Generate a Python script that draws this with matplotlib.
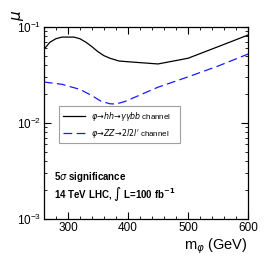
import matplotlib
matplotlib.use("Agg")
import matplotlib.pyplot as plt
from matplotlib.ticker import MultipleLocator, LogLocator

plt.rcParams["font.family"] = ["Liberation Sans", "DejaVu Sans"]

mass_hh = [260, 270, 280, 290, 300, 310, 320, 330, 340, 350, 360, 370, 385, 405, 450, 500, 550, 600]
mu_hh = [0.058, 0.069, 0.075, 0.078, 0.078, 0.078, 0.075, 0.069, 0.062, 0.055, 0.050, 0.047,
         0.044, 0.043, 0.041, 0.047, 0.062, 0.082]

mass_zz = [260, 290, 320, 340, 355, 370, 380, 395, 420, 450, 500, 550, 600]
mu_zz = [0.0266, 0.0252, 0.0223, 0.0192, 0.0168, 0.0158, 0.0157, 0.0167, 0.0195, 0.0235,
         0.0301, 0.039, 0.052]

label_hh = r"$\varphi\!\rightarrow\!hh\!\rightarrow\!\gamma\gamma bb$ channel"
label_zz = r"$\varphi\!\rightarrow\!ZZ\!\rightarrow\!2l2l'$ channel"

fig = plt.figure(figsize=(2.76, 2.62), dpi=100)
ax = fig.add_axes([0.159, 0.164, 0.740, 0.734])

ax.plot(mass_hh, mu_hh, c="black", lw=0.9, label=label_hh)
ax.plot(mass_zz, mu_zz, c="#1a1aff", lw=0.9, ls=(0, (7, 3.5)), label=label_zz)

ax.set_yscale("log")
ax.set_xlim(260, 600)
ax.set_ylim(1e-3, 1e-1)
ax.xaxis.set_major_locator(MultipleLocator(100))
ax.xaxis.set_minor_locator(MultipleLocator(20))
ax.yaxis.set_minor_locator(LogLocator(base=10, subs=range(2, 10)))
ax.tick_params(which="both", direction="in", top=True, right=True, labelsize=8.5, pad=2)
ax.tick_params(which="major", length=5)
ax.tick_params(which="minor", length=2.5)
for s in ax.spines.values():
    s.set_linewidth(0.9)

leg = ax.legend(loc="lower left", bbox_to_anchor=(0.074, 0.395, 0.593, 0.161), mode="expand",
                fontsize=5.7, frameon=True, fancybox=False, edgecolor="#888888",
                handlelength=2.8, borderpad=0.45, labelspacing=0.5, borderaxespad=0)
leg.get_frame().set_linewidth(0.8)

ax.text(0.05, 0.205, r"5$\sigma$ significance", transform=ax.transAxes, fontsize=7,
        fontweight="bold")
ax.text(0.05, 0.11, r"14 TeV LHC, $\int$ L=100 fb$^{\mathbf{-1}}$", transform=ax.transAxes,
        fontsize=7, fontweight="bold")

ax.set_xlabel(r"m$_{\varphi}$ (GeV)", fontsize=10.5, loc="right", labelpad=2)
fig.text(0.065, 0.94, r"$\mu$", fontsize=11, rotation=90, ha="center", va="center")

fig.savefig("out.png", dpi=100)
